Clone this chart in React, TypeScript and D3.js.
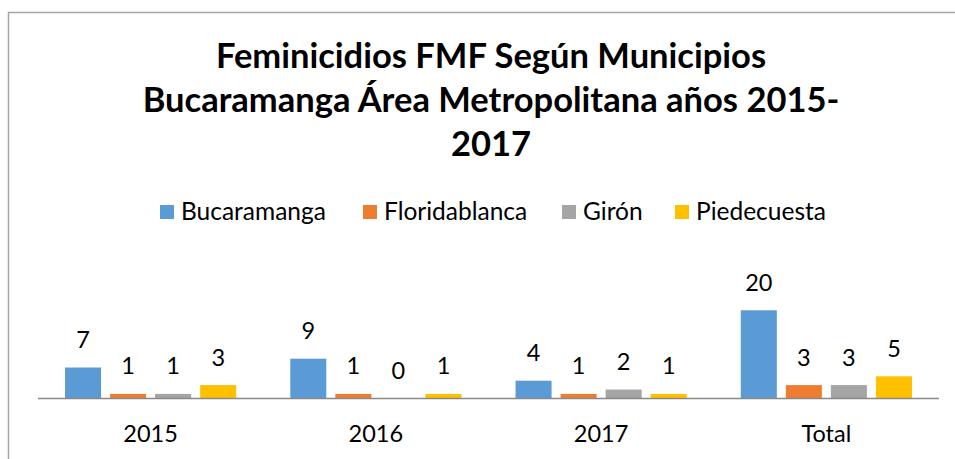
import React from "react";
import * as d3 from "d3";

const categories = ["2015", "2016", "2017", "Total"];
const seriesNames = ["Bucaramanga", "Floridablanca", "Girón", "Piedecuesta"];
const bucaramanga = [7, 9, 4, 20];
const floridablanca = [1, 1, 1, 3];
const giron = [1, 0, 2, 3];
const piedecuesta = [3, 1, 1, 5];
const seriesValues = [bucaramanga, floridablanca, giron, piedecuesta];
const colors = ["#5B9BD5", "#ED7D31", "#A5A5A5", "#FFC000"];
const titleLines = [
  "Feminicidios FMF Según Municipios",
  "Bucaramanga Área Metropolitana años 2015-",
  "2017",
];

const W = 955;
const H = 459;
const FONT = "Lato, 'Open Sans', sans-serif";
const legendX = [160, 363, 562, 675];

export default function App() {
  const x0 = d3.scaleBand<string>().domain(categories).range([38, 939]).paddingInner(0).paddingOuter(0);
  const x1 = d3
    .scaleBand<string>()
    .domain(seriesNames)
    .range([0, x0.bandwidth()])
    .paddingInner(0.2)
    .paddingOuter(0.6);
  const y = d3.scaleLinear().domain([0, 20]).range([398.3, 310.3]);

  return (
    <svg
      width={W}
      height={H}
      style={{ position: "absolute", left: 0, top: 0, background: "#fff" }}
      fontFamily={FONT}
    >
      <rect x={0} y={0} width={W} height={H} fill="#fff" />
      <path d={`M8.5,${H} V12.5 H${W}`} fill="none" stroke="#A6A6A6" strokeWidth={1.5} />
      {titleLines.map((t, i) => (
        <text
          key={i}
          x={491}
          y={68 + i * 44}
          textAnchor="middle"
          fontSize={34.5}
          fontWeight="bold"
          fill="#000"
        >
          {t}
        </text>
      ))}
      {seriesNames.map((s, i) => (
        <g key={s}>
          <rect x={legendX[i]} y={205} width={14} height={14} fill={colors[i]} />
          <text x={legendX[i] + 21} y={220} fontSize={24.5} fill="#000">
            {s}
          </text>
        </g>
      ))}
      {categories.map((c, ci) => (
        <g key={c} transform={`translate(${x0(c)},0)`}>
          {seriesNames.map((s, si) => {
            const v = seriesValues[si][ci];
            const bx = x1(s)!;
            return (
              <g key={s}>
                <rect
                  x={bx}
                  y={y(v)}
                  width={x1.bandwidth()}
                  height={y(0) - y(v)}
                  fill={colors[si]}
                />
                <text
                  x={bx + x1.bandwidth() / 2}
                  y={y(v) - 19.5}
                  textAnchor="middle"
                  fontSize={23.5}
                  fill="#000"
                >
                  {v}
                </text>
              </g>
            );
          })}
          <text x={x0.bandwidth() / 2} y={441.5} textAnchor="middle" fontSize={23.5} fill="#000">
            {c}
          </text>
        </g>
      ))}
      <line x1={38} x2={939} y1={398.5} y2={398.5} stroke="#898989" strokeWidth={1.5} />
    </svg>
  );
}
